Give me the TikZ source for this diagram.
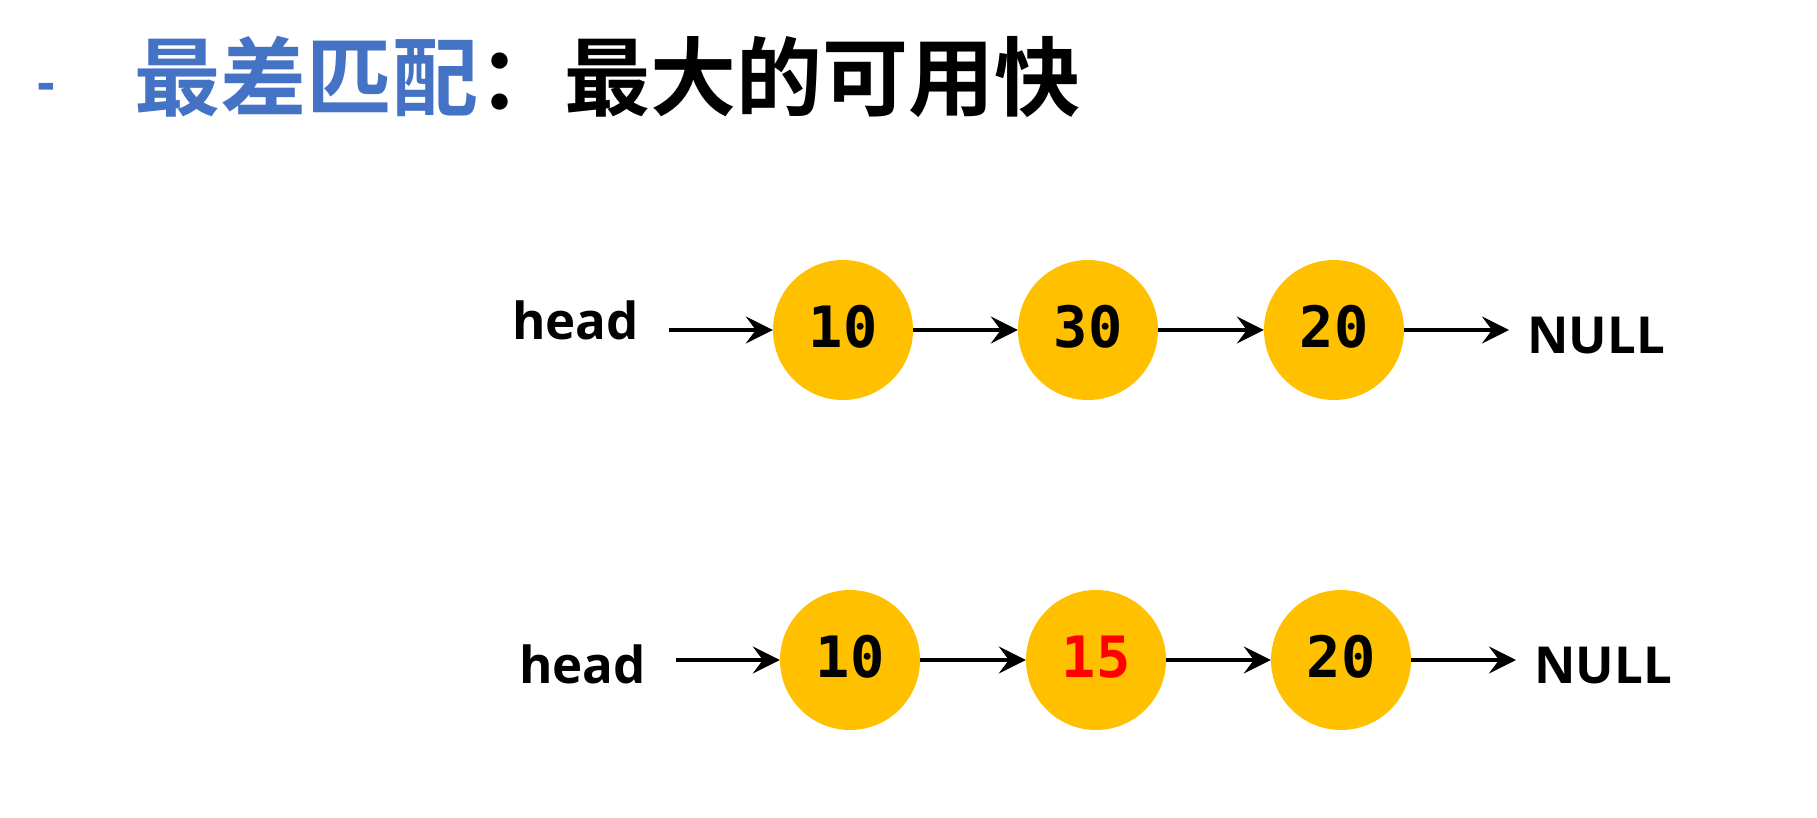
\documentclass[tikz,border=0pt]{standalone}
\usepackage{fontspec}
\usetikzlibrary{arrows.meta}
\newfontfamily\cjkbold{Noto Sans CJK SC Bold}
\newfontfamily\labfont{Open Sans}
\newfontfamily\numfont{DejaVu Sans Mono}
\definecolor{titleblue}{HTML}{4472C4}
\definecolor{nodeyellow}{HTML}{FFC000}
\definecolor{hotred}{HTML}{FF0000}
\tikzset{
  listnode/.style={circle, fill=nodeyellow, minimum size=140pt, inner sep=0pt,
    text height=34pt, text depth=0pt,
    font=\numfont\bfseries\fontsize{57}{57}\selectfont},
  lbl/.style={inner sep=0pt, anchor=base west, font=\labfont\bfseries\fontsize{51}{51}\selectfont},
  arr/.style={-{Stealth[length=27pt,width=27pt,inset=10pt]}, line width=3.5pt, black},
}
\begin{document}
\begin{tikzpicture}[x=1pt,y=-1pt]
\useasboundingbox (0,0) rectangle (1817,817);
\fill[white] (0,0) rectangle (1817,817);
% title
\node[inner sep=0pt, anchor=base west, text=titleblue, font=\labfont\bfseries\fontsize{55}{55}\selectfont] (dash) at (37,101) {-};
\node[inner sep=0pt, anchor=base west, text=titleblue, font=\cjkbold\fontsize{86}{86}\selectfont] (t1) at (134,109) {最差匹配};
\node[inner sep=0pt, anchor=base west, text=black, font=\cjkbold\fontsize{86}{86}\selectfont] (t2) at (t1.base east) {：最大的可用快};
% row 1
\node[lbl] (h1) at (512,339) {head};
\node[listnode] (c11) at (843,330) {10};
\node[listnode] (c12) at (1088,330) {30};
\node[listnode] (c13) at (1334,330) {20};
\node[lbl] (n1) at (1527,353) {NULL};
\draw[arr, shorten <=30pt] (h1.east |- c11.center) -- (c11);
\draw[arr] (c11) -- (c12);
\draw[arr] (c12) -- (c13);
\draw[arr, shorten >=18pt] (c13) -- (n1.west |- c13.center);
% row 2
\node[lbl] (h2) at (519,683) {head};
\node[listnode] (c21) at (850,660) {10};
\node[listnode, text=hotred] (c22) at (1096,660) {15};
\node[listnode] (c23) at (1341,660) {20};
\node[lbl] (n2) at (1534,683) {NULL};
\draw[arr, shorten <=30pt] (h2.east |- c21.center) -- (c21);
\draw[arr] (c21) -- (c22);
\draw[arr] (c22) -- (c23);
\draw[arr, shorten >=18pt] (c23) -- (n2.west |- c23.center);
\end{tikzpicture}
\end{document}
